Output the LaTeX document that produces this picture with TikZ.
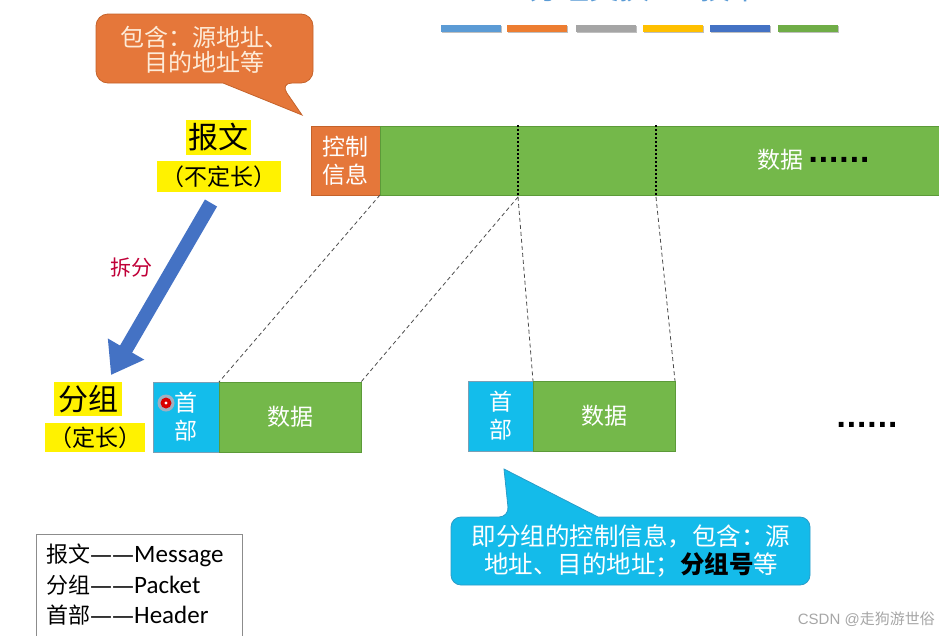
\documentclass[tikz,border=0pt]{standalone}
\usepackage{fontspec}
\setmainfont{Noto Sans CJK SC}
\newfontfamily\latfont{Carlito}
\newfontfamily\wmfont{Liberation Sans}
\newfontfamily\dotfont{DejaVu Sans}
\usetikzlibrary{arrows.meta}

\definecolor{ctlorange}{HTML}{E5773A}
\definecolor{ctlborder}{HTML}{C4622A}
\definecolor{datagreen}{HTML}{74B84A}
\definecolor{greenborder}{HTML}{5C9A38}
\definecolor{headcyan}{HTML}{13BDEB}
\definecolor{cyanborder}{HTML}{7A9FB5}
\definecolor{arrowblue}{HTML}{4472C4}
\definecolor{tipblue}{HTML}{14BBEA}
\definecolor{tipborder}{HTML}{2A9CC8}
\definecolor{cream}{HTML}{FDEBD8}
\definecolor{splitred}{HTML}{C00038}
\definecolor{titleblue}{HTML}{5B9BD5}
\definecolor{barA}{HTML}{5B9BD5}
\definecolor{barB}{HTML}{ED7D31}
\definecolor{barC}{HTML}{A5A5A5}
\definecolor{barD}{HTML}{FFC000}
\definecolor{barE}{HTML}{4472C4}
\definecolor{barF}{HTML}{70AD47}

\tikzset{
  cell/.style={inner sep=0pt, outer sep=0pt, anchor=north west, align=center,
    text=white, font=\fontsize{23}{28}\selectfont, line width=0.8pt},
  ctlcell/.style={cell, fill=ctlorange, draw=ctlborder},
  datacell/.style={cell, fill=datagreen, draw=greenborder},
  headcell/.style={cell, fill=headcyan, draw=cyanborder},
  hilite/.style={fill=yellow, text=black, inner sep=0pt, outer sep=0pt},
  split/.style={draw=black!70, line width=0.8pt, dash pattern=on 4pt off 3pt},
  cut/.style={draw=black, line width=2pt, dash pattern=on 2pt off 2pt},
  dots/.style={font=\dotfont\bfseries\fontsize{27}{27}\selectfont, text=black, inner sep=0pt},
  legendline/.style={anchor=west, inner sep=0pt, font=\fontsize{22}{26}\selectfont},
}
\newcommand\glossdash{{\dotfont ——}}

\begin{document}
\begin{tikzpicture}[x=1pt, y=-1pt]
\useasboundingbox (0,0) rectangle (939,635);

% title, running off the top edge
\node[text=titleblue, font=\fontsize{30}{30}\selectfont, anchor=base, inner sep=0pt]
  (title) at (645,-1) {分组交换——技术};

% colour bars under the title
\foreach \xa/\c in {441/barA, 507/barB, 576/barC, 643/barD, 710/barE, 778/barF}{
  \fill[black!25] (\xa+1,26) rectangle (\xa+61,33);
  \fill[\c] (\xa,25) rectangle (\xa+60,32);
}

% the message: control information + data
\node[ctlcell, minimum width=69pt, minimum height=69pt] (ctl) at (311,126) {控制\\信息};
\node[datacell, minimum width=565pt, minimum height=69pt] (msgdata) at (380,126) {};
\node[text=white, font=\fontsize{23}{28}\selectfont, inner sep=0pt] (msgtxt) at (780,160) {数据};
\node[dots, anchor=west] (msgdots) at (808,160) {......};

% cut positions in the message
\coordinate (c1t) at (518,125);
\coordinate (c1b) at (518,197);
\coordinate (c2t) at (656,125);
\coordinate (c2b) at (656,197);
\draw[cut] (c1t) -- (c1b);
\draw[cut] (c2t) -- (c2b);

% callout on the control information
\draw[fill=ctlorange, draw=ctlborder, line width=0.8pt]
  [rounded corners=12pt] (96,48) |- (313,14) |- (280,83)
  [sharp corners] -- (302,115) -- (223,83)
  [rounded corners=12pt] -| (96,48) -- cycle;
\node[text=cream, align=center, font=\fontsize{24}{25.5}\selectfont, inner sep=0pt]
  (ctlnote) at (204,50) {包含：源地址、\\目的地址等};

% message label
\node[hilite, minimum width=65pt, minimum height=35pt, font=\fontsize{30}{32}\selectfont]
  (msglabel) at (218.5,137.5) {报文};
\node[hilite, minimum width=124pt, minimum height=31pt, font=\fontsize{23}{25}\selectfont]
  (msglen) at (219,176.5) {（不定长）};

% splitting arrow
\coordinate (arrA) at (211,203);
\coordinate (arrB) at (111,375);
\draw[arrowblue, line width=14pt, -{Triangle[length=30pt,width=40pt]}] (arrA) -- (arrB);
\node[text=splitred, font=\fontsize{21}{23}\selectfont, inner sep=0pt] (splitlbl) at (131,268) {拆分};

% packet label
\node[hilite, minimum width=68pt, minimum height=34pt, font=\fontsize{30}{32}\selectfont]
  (pktlabel) at (88,399) {分组};
\node[hilite, minimum width=100pt, minimum height=29pt, font=\fontsize{23}{25}\selectfont]
  (pktlen) at (95,437.5) {（定长）};

% first packet
\node[headcell, minimum width=66pt, minimum height=70pt] (p1h) at (153,382) {首\\部};
\node[datacell, minimum width=142pt, minimum height=70pt] (p1d) at (219,382) {数据};
% pointer dot
\fill[red!35, opacity=0.6] (166,403) circle (8.5);
\fill[red!85!black] (166,403) circle (5.5);
\fill[white] (166,403) circle (1.7);

% second packet
\node[headcell, minimum width=65pt, minimum height=70pt] (p2h) at (468,381) {首\\部};
\node[datacell, minimum width=142pt, minimum height=70pt] (p2d) at (533,381) {数据};
\node[dots, anchor=west] (pktdots) at (836,425) {......};

% where the pieces come from
\draw[split] (ctl.south east) -- (p1h.north east);
\draw[split] (c1b) -- (p1d.north east);
\draw[split] (c1b) -- (p2h.north east);
\draw[split] (c2b) -- (p2d.north east);

% callout on the header
\draw[fill=tipblue, draw=tipborder, line width=0.8pt]
  [rounded corners=10pt] (451,551) |- (509,517)
  [sharp corners] -- (504,469) -- (598,517)
  [rounded corners=10pt] -| (810,585) -| (451,551) -- cycle;
\node[text=white, align=center, font=\fontsize{24.5}{28}\selectfont, inner sep=0pt]
  (hdnote) at (631,551) {即分组的控制信息，包含：源\\地址、目的地址；\textcolor{black}{\bfseries 分组号}等};

% glossary
\node[draw=black!45, line width=0.8pt, minimum width=206pt, minimum height=112pt,
  anchor=north west, inner sep=0pt] (legend) at (36,534) {};
\node[legendline] (lg1) at (46,555) {报文\glossdash{\latfont\fontsize{25}{26}\selectfont Message}};
\node[legendline] (lg2) at (46,585) {分组\glossdash{\latfont\fontsize{25}{26}\selectfont Packet}};
\node[legendline] (lg3) at (46,615) {首部\glossdash{\latfont\fontsize{25}{26}\selectfont Header}};

% watermark
\node[anchor=east, text=black!35, font=\fontsize{15}{17}\selectfont, inner sep=0pt]
  (wm) at (935,619) {{\wmfont CSDN @}走狗游世俗};
\end{tikzpicture}
\end{document}
